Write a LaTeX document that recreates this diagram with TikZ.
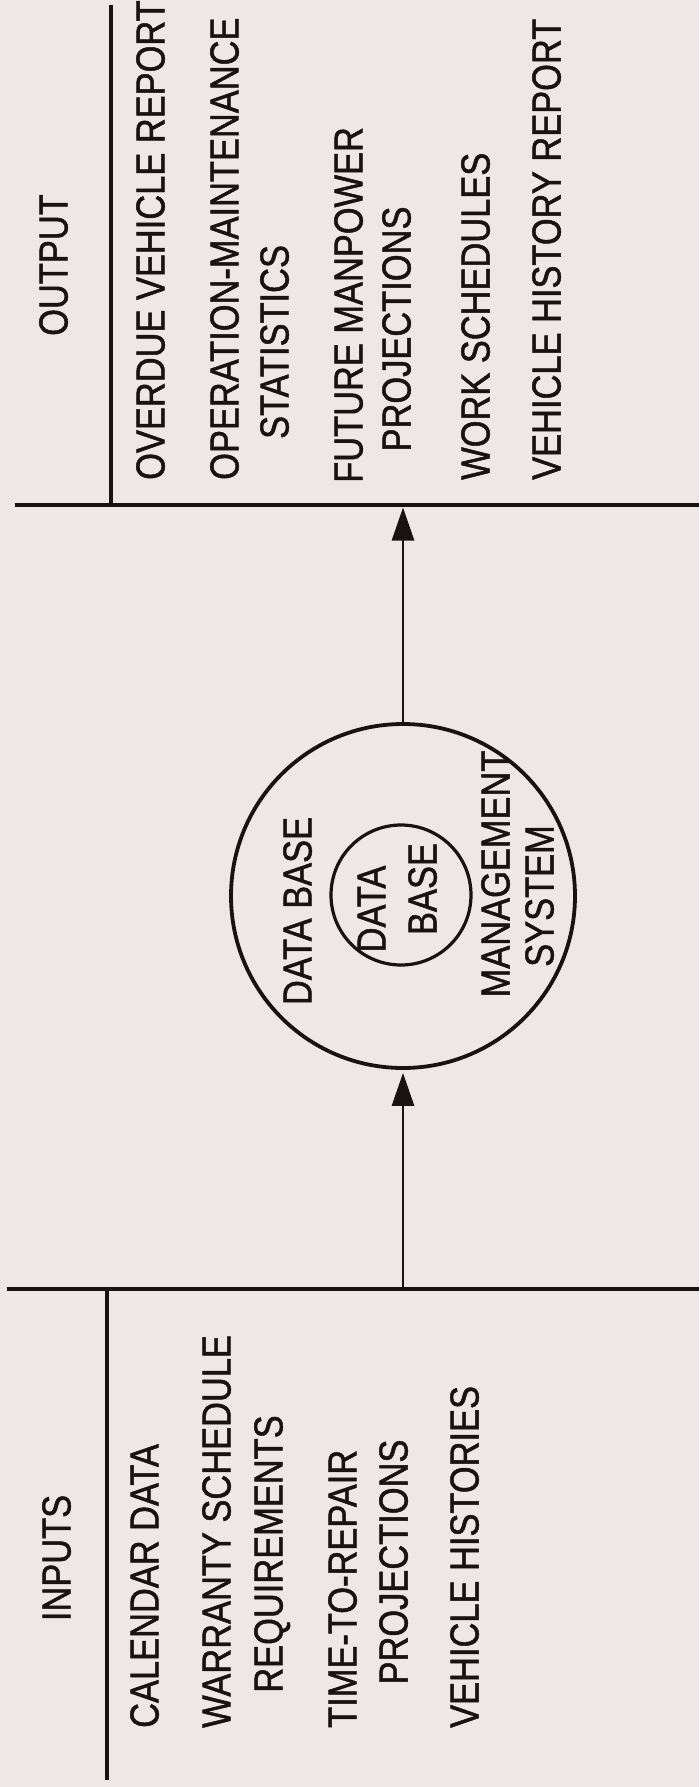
\documentclass[tikz,border=0pt]{standalone}
\usepackage{fontspec}
\setmainfont[FakeStretch=0.85,FakeBold=1.2]{Liberation Sans}
\usetikzlibrary{arrows.meta}
\definecolor{bg}{RGB}{239,231,231}
\definecolor{ink}{RGB}{24,18,18}
\begin{document}
\begin{tikzpicture}[x=1pt,y=-1pt,
  lbl/.style={rotate=90, inner sep=0pt, text=ink, font=\fontsize{40.5}{52}\selectfont},
  item/.style={lbl, anchor=base west},
  cont/.style={lbl, anchor=base},
  rule/.style={draw=ink, line width=4.2pt},
  vrule/.style={draw=ink, line width=3.2pt},
  ring/.style={circle, draw=ink, line width=3.8pt, inner sep=0pt},
  flow/.style={draw=ink, line width=2.8pt, -{Triangle[length=33pt,width=22pt]}}]
\fill[bg] (0,0) rectangle (699,1787);
\useasboundingbox (0,0) rectangle (699,1787);

% rules
\coordinate (tl) at (15,505);
\coordinate (tr) at (699,505);
\draw[rule] (tl) -- (tr);
\coordinate (tv1) at (111,5);
\coordinate (tv2) at (111,505);
\draw[vrule] (tv1) -- (tv2);
\coordinate (bl) at (7,1289);
\coordinate (br) at (699,1289);
\draw[rule] (bl) -- (br);
\coordinate (bv1) at (107,1289);
\coordinate (bv2) at (107,1780);
\draw[vrule] (bv1) -- (bv2);

% data base management system
\node[ring, minimum size=344pt] (outer) at (403,896) {};
\node[ring, minimum size=140pt, line width=3.2pt] (inner) at (401,895) {};
\node[cont] (dbo) at (311.5,911) {DATA BASE};
\node[cont] (dbi1) at (385.5,909) {DATA};
\node[cont] (dbi2) at (436.5,889) {BASE};
\node[cont] (mgmt1) at (509.5,874) {MANAGEMENT};
\node[cont] (mgmt2) at (553.5,896) {SYSTEM};

% arrows
\coordinate (upend) at (403,507.5);
\draw[flow] (outer.north) -- (upend);
\draw[flow] (outer.south |- bl) -- ([yshift=-3pt]outer.south);

% outputs
\node[cont] (out) at (67.5,265) {OUTPUT};
\node[item] (o1) at (164.5,480) {OVERDUE VEHICLE REPORT};
\node[item] (o2) at (238.5,480) {OPERATION-MAINTENANCE};
\node[cont] (o2b) at (288.5,342) {STATISTICS};
\node[item] (o3) at (362.5,483) {FUTURE MANPOWER};
\node[cont] (o3b) at (410.5,329) {PROJECTIONS};
\node[item] (o4) at (489.5,480) {WORK SCHEDULES};
\node[item] (o5) at (560.5,480) {VEHICLE HISTORY REPORT};

% inputs
\node[cont] (in) at (70.5,1558) {INPUTS};
\node[item] (i1) at (158.5,1728) {CALENDAR DATA};
\node[item] (i2) at (230.5,1728) {WARRANTY SCHEDULE};
\node[cont] (i2b) at (282.5,1554) {REQUIREMENTS};
\node[item] (i3) at (356.5,1728) {TIME-TO-REPAIR};
\node[cont] (i3b) at (407.5,1562) {PROJECTIONS};
\node[item] (i4) at (478.5,1728) {VEHICLE HISTORIES};
\end{tikzpicture}
\end{document}
